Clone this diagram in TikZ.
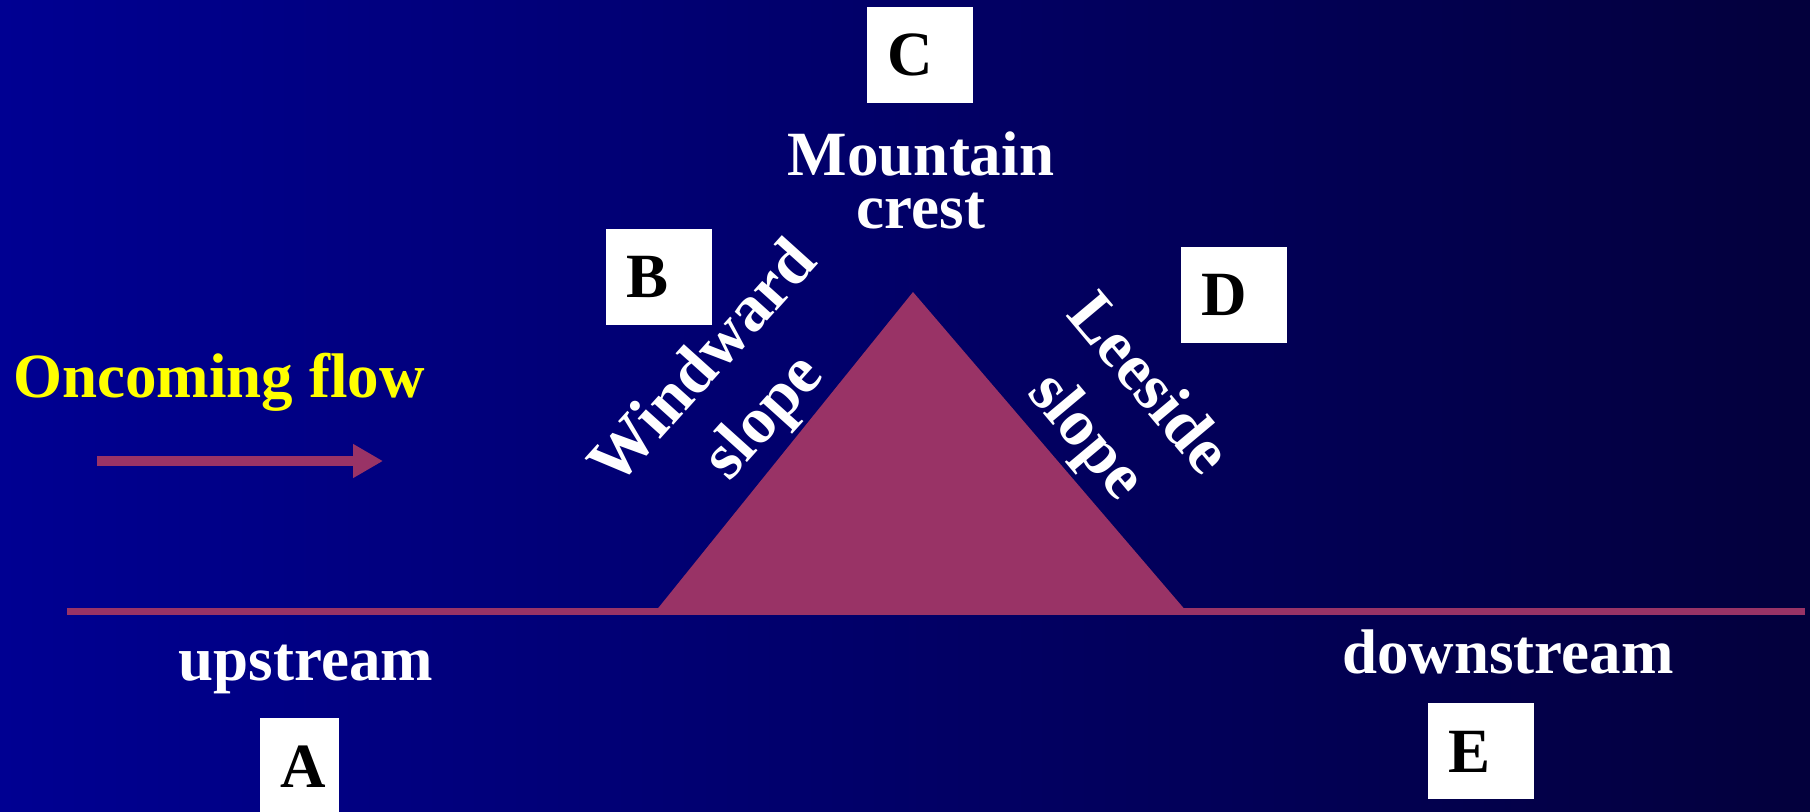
\documentclass[tikz,border=0pt]{standalone}
\usepackage{fontspec}
\setmainfont{Liberation Serif}
\usepackage{tikz}
\usetikzlibrary{positioning,arrows.meta}
\definecolor{sky}{HTML}{000092}
\definecolor{skymid}{HTML}{00007E}
\definecolor{skydark}{HTML}{03003C}
\definecolor{hill}{HTML}{993366}
\definecolor{flowtext}{HTML}{FFFF00}
\newcommand{\slidefont}{\fontsize{31.5}{26.5}\selectfont\bfseries}
\newcommand{\slopefont}{\fontsize{33}{40}\selectfont\bfseries}

\begin{document}
\begin{tikzpicture}[x=0.5pt, y=-0.5pt, font=\slidefont,
    letterbox/.style={fill=white, anchor=north west, inner xsep=10pt, inner ysep=0pt,
      minimum height=48pt, text width=#1, align=left, text=black},
    letterbox/.default=33pt,
    whitelabel/.style={text=white, align=center, inner sep=0pt}]
    \useasboundingbox (0,0) rectangle (1810,811);
    \fill[left color=sky, middle color=skymid, right color=skydark] (0,0) rectangle (1810,811);

    % ground and mountain
    \coordinate (groundleft) at (67,611.5);
    \coordinate (groundright) at (1805,611.5);
    \coordinate (windfoot) at (655,612);
    \coordinate (crest) at (913,292);
    \coordinate (leefoot) at (1187,612);
    \draw[hill, line width=3.5pt] (groundleft) -- (groundright);
    \fill[hill] (windfoot) -- (crest) -- (leefoot) -- cycle;

    % oncoming flow
    \node[text=flowtext, anchor=base west, inner sep=0pt] (flow) at (13,397) {Oncoming flow};
    \coordinate (flowtail) at (97,461);
    \coordinate (flowhead) at (383,461);
    \draw[hill, line width=5pt, -{Triangle[length=15pt,width=16pt]}] (flowtail) -- (flowhead);

    % labels
    \node[whitelabel] (crestlabel) at (921,180) {Mountain\\crest};
    \node[whitelabel, anchor=base] (up) at (306,680) {upstream};
    \node[whitelabel, anchor=base] (down) at (1508,673) {downstream};
    \node[whitelabel, font=\slopefont, rotate=48] (wind) at (736,392) {Windward\\slope};
    \node[whitelabel, font=\slopefont, rotate=-50] (lee) at (1115,412) {Leeside\\slope};

    % letter boxes
    \node[letterbox=19.5pt] (A) at (260,718) {A};
    \node[letterbox] (B) at (606,229) {B};
    \node[letterbox] (C) at (867,7) {C};
    \node[letterbox] (D) at (1181,247) {D};
    \node[letterbox] (E) at (1428,703) {E};
\end{tikzpicture}
\end{document}
